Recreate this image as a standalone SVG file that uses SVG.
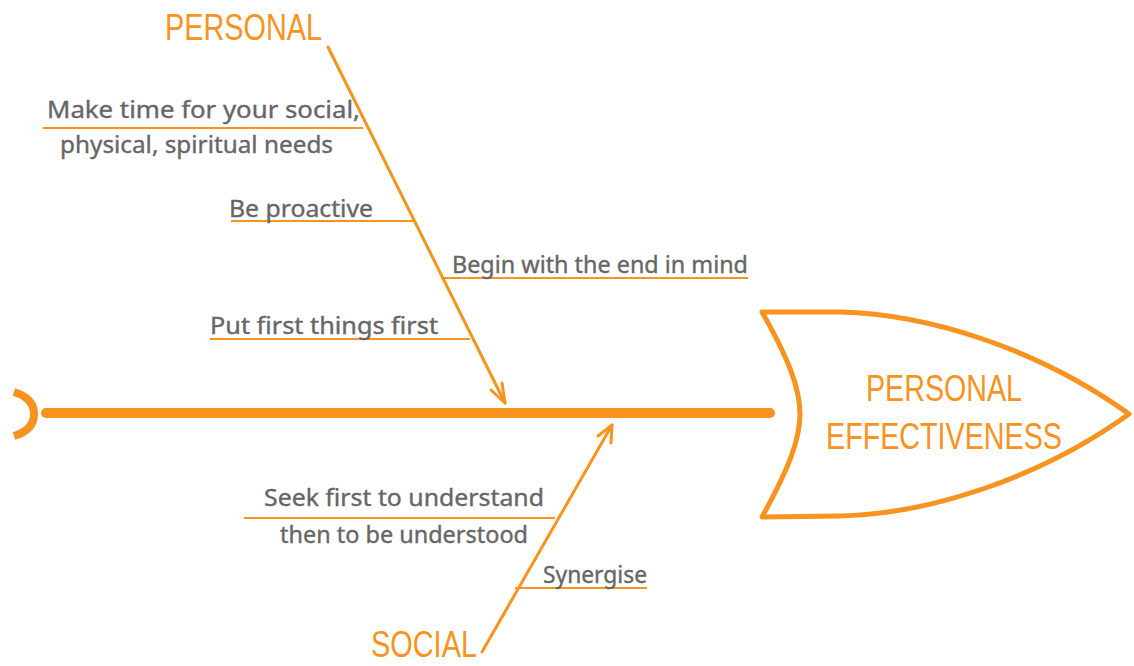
<svg xmlns="http://www.w3.org/2000/svg" width="1134" height="666" viewBox="0 0 1134 666">
  <style>
    .bone { fill: none; stroke: #F7931E; stroke-width: 3; stroke-linecap: round; stroke-linejoin: round; }
    .rule { fill: none; stroke: #F7931E; stroke-width: 2; }
    .cause { font-family: "Noto Sans", "Liberation Sans", sans-serif; font-size: 23px; fill: #666666; stroke: #666666; stroke-width: 0.35px; }
    .cat { font-family: "Liberation Sans", "Noto Sans", sans-serif; font-size: 37px; fill: #F7931E; }
    .head { font-family: "Liberation Sans", "Noto Sans", sans-serif; font-size: 36px; fill: #F7931E; }
  </style>
  <rect width="1134" height="666" fill="#ffffff"/>

  <!-- spine and tail -->
  <g id="spine">
    <path d="M14,392 Q34,398 34,414 Q34,430 14,436" fill="none" stroke="#F7931E" stroke-width="8"/>
    <line x1="46" y1="413" x2="770" y2="413" stroke="#F7931E" stroke-width="10" stroke-linecap="round"/>
  </g>

  <!-- fish head -->
  <g id="effect">
    <path d="M762,312 L840,312 C930,314 1040,350 1129,414 C1040,478 930,514 840,516 L762,517 C788,470 800,440 800,414 C800,388 788,358 762,312 Z" fill="#ffffff" stroke="#F7931E" stroke-width="5" stroke-linejoin="round"/>
    <text class="head" x="944" y="401" text-anchor="middle" textLength="156" lengthAdjust="spacingAndGlyphs">PERSONAL</text>
    <text class="head" x="944" y="449" text-anchor="middle" textLength="236" lengthAdjust="spacingAndGlyphs">EFFECTIVENESS</text>
  </g>

  <!-- bones -->
  <g id="connectors">
    <line class="bone" x1="328" y1="47" x2="505" y2="403"/>
    <path class="bone" d="M491,390 L505,403 L502,383"/>
    <line class="bone" x1="482" y1="652" x2="612" y2="425"/>
    <path class="bone" d="M598,436 L612,425 L611,443"/>
  </g>

  <g id="personal">
    <text class="cat" x="165" y="40" textLength="157" lengthAdjust="spacingAndGlyphs">PERSONAL</text>
  </g>

  <g id="social">
    <text class="cat" x="371" y="657" textLength="106" lengthAdjust="spacingAndGlyphs">SOCIAL</text>
  </g>

  <g id="cause-needs">
    <line class="rule" x1="43" y1="128" x2="363" y2="128"/>
    <text class="cause" x="47" y="118" textLength="313" lengthAdjust="spacingAndGlyphs">Make time for your social,</text>
    <text class="cause" x="60" y="153" textLength="273" lengthAdjust="spacingAndGlyphs">physical, spiritual needs</text>
  </g>

  <g id="cause-proactive">
    <line class="rule" x1="231" y1="221" x2="413" y2="221"/>
    <text class="cause" x="229" y="217" textLength="144" lengthAdjust="spacingAndGlyphs">Be proactive</text>
  </g>

  <g id="cause-end">
    <line class="rule" x1="441" y1="278" x2="748" y2="278"/>
    <text class="cause" x="452" y="273" textLength="296" lengthAdjust="spacingAndGlyphs">Begin with the end in mind</text>
  </g>

  <g id="cause-first">
    <line class="rule" x1="210" y1="339" x2="470" y2="339"/>
    <text class="cause" x="210" y="334" textLength="228" lengthAdjust="spacingAndGlyphs">Put first things first</text>
  </g>

  <g id="cause-understand">
    <line class="rule" x1="244" y1="518" x2="555" y2="518"/>
    <text class="cause" x="264" y="506" textLength="280" lengthAdjust="spacingAndGlyphs">Seek first to understand</text>
    <text class="cause" x="280" y="543" textLength="248" lengthAdjust="spacingAndGlyphs">then to be understood</text>
  </g>

  <g id="cause-synergise">
    <line class="rule" x1="515" y1="588" x2="647" y2="588"/>
    <text class="cause" x="543" y="583" textLength="104" lengthAdjust="spacingAndGlyphs">Synergise</text>
  </g>
</svg>
